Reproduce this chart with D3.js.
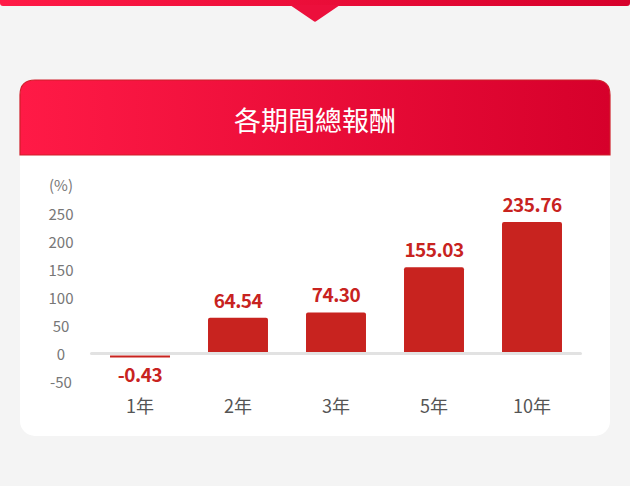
<!DOCTYPE html>
<html lang="zh-Hant">
<head>
    <meta charset="UTF-8">
    <title>各期間總報酬</title>
    <script src="https://cdnjs.cloudflare.com/ajax/libs/d3/7.8.5/d3.min.js"></script>
    <style>
        html, body { margin: 0; padding: 0; background: #f4f4f4; }
        svg { display: block; font-family: "Noto Sans CJK TC", "Noto Sans", sans-serif; }
    </style>
</head>
<body>
    <svg id="chart" width="630" height="486"></svg>
    <script>
        // data
        var title = "各期間總報酬";
        var unitLabel = "(%)";
        var periods = ["1年", "2年", "3年", "5年", "10年"];
        var returns = [-0.43, 64.54, 74.30, 155.03, 235.76];
        var tickValues = [-50, 0, 50, 100, 150, 200, 250];

        var W = 630, H = 486;
        var red = "#c8231f";

        var svg = d3.select("#chart");
        var defs = svg.append("defs");

        var grad = defs.append("linearGradient")
            .attr("id", "hdr")
            .attr("x1", "0%").attr("y1", "0%")
            .attr("x2", "100%").attr("y2", "0%");
        grad.append("stop").attr("offset", "0%").attr("stop-color", "#ff1a46");
        grad.append("stop").attr("offset", "100%").attr("stop-color", "#d6002b");

        // top strip + notch
        svg.append("rect")
            .attr("x", 0).attr("y", -4)
            .attr("width", W).attr("height", 10)
            .attr("rx", 3)
            .attr("fill", "url(#hdr)");
        svg.append("path")
            .attr("d", "M290,5 L340,5 L316.5,21 Q315,22.5 313.5,21 Z")
            .attr("fill", "#ec0f3c");

        // card
        var cx = 20, cy = 80, cw = 590, ch = 356;
        svg.append("rect")
            .attr("x", cx).attr("y", cy)
            .attr("width", cw).attr("height", ch)
            .attr("rx", 15)
            .attr("fill", "#fff");

        // header with rounded top corners
        var hh = 75, r = 15;
        svg.append("path")
            .attr("d", "M" + cx + "," + (cy + hh) +
                " L" + cx + "," + (cy + r) +
                " Q" + cx + "," + cy + " " + (cx + r) + "," + cy +
                " L" + (cx + cw - r) + "," + cy +
                " Q" + (cx + cw) + "," + cy + " " + (cx + cw) + "," + (cy + r) +
                " L" + (cx + cw) + "," + (cy + hh) + " Z")
            .attr("fill", "url(#hdr)")
            .attr("stroke", "#cf1f2a")
            .attr("stroke-width", 1.2);

        svg.append("text")
            .attr("x", W / 2).attr("y", 131)
            .attr("text-anchor", "middle")
            .attr("fill", "#fff")
            .attr("font-size", 27)
            .attr("font-weight", 400)
            .text(title);

        // scales
        var x = d3.scaleBand()
            .domain(periods)
            .range([91, 581])
            .paddingInner(0.388)
            .paddingOuter(0.194);

        var y = d3.scaleLinear()
            .domain([-50, 250])
            .range([382, 214]);

        // y axis labels
        var yAxis = d3.axisLeft(y)
            .tickValues(tickValues)
            .tickFormat(function (d) { return String(d); })
            .tickSize(0).tickPadding(0);
        var gy = svg.append("g")
            .attr("transform", "translate(61,0)")
            .call(yAxis);
        gy.select(".domain").remove();
        gy.selectAll("text")
            .attr("text-anchor", "middle")
            .attr("dy", "0.35em")
            .attr("fill", "#777")
            .attr("font-size", 15)
            .attr("font-family", "Noto Sans CJK TC, sans-serif");

        svg.append("text")
            .attr("x", 61).attr("y", 186)
            .attr("text-anchor", "middle")
            .attr("dy", "0.35em")
            .attr("fill", "#777")
            .attr("font-size", 15)
            .text(unitLabel);

        // bars
        var y0 = y(0);
        var bars = periods.map(function (p, i) { return { p: p, v: returns[i] }; });

        svg.selectAll(".bar")
            .data(bars)
            .enter()
            .append("path")
            .attr("class", "bar")
            .attr("fill", red)
            .attr("d", function (d) {
                var x0 = x(d.p), bw = x.bandwidth();
                if (d.v >= 0) {
                    var top = y(d.v), bot = y0, rr = 2;
                    return "M" + x0 + "," + bot +
                        " L" + x0 + "," + (top + rr) +
                        " Q" + x0 + "," + top + " " + (x0 + rr) + "," + top +
                        " L" + (x0 + bw - rr) + "," + top +
                        " Q" + (x0 + bw) + "," + top + " " + (x0 + bw) + "," + (top + rr) +
                        " L" + (x0 + bw) + "," + bot + " Z";
                }
                var t = y0 + 1.5, b = Math.max(y(d.v), t + 2);
                return "M" + x0 + "," + t + " L" + (x0 + bw) + "," + t +
                    " L" + (x0 + bw) + "," + b + " L" + x0 + "," + b + " Z";
            });

        // zero line
        svg.append("line")
            .attr("x1", 91.5).attr("x2", 580.5)
            .attr("y1", y0 - 0.5).attr("y2", y0 - 0.5)
            .attr("stroke", "#e2e2e2")
            .attr("stroke-width", 3)
            .attr("stroke-linecap", "round");

        // value labels
        svg.selectAll(".val")
            .data(bars)
            .enter()
            .append("text")
            .attr("class", "val")
            .attr("x", function (d) { return x(d.p) + x.bandwidth() / 2; })
            .attr("y", function (d) { return d.v >= 0 ? y(d.v) - 10 : 382; })
            .attr("text-anchor", "middle")
            .attr("fill", red)
            .attr("font-size", 19)
            .attr("font-weight", 700)
            .attr("letter-spacing", -0.5)
            .text(function (d) { return d.v.toFixed(2); });

        // category labels
        svg.selectAll(".cat")
            .data(periods)
            .enter()
            .append("text")
            .attr("class", "cat")
            .attr("x", function (d) { return x(d) + x.bandwidth() / 2; })
            .attr("y", 413)
            .attr("text-anchor", "middle")
            .attr("fill", "#555")
            .attr("font-size", 18)
            .text(function (d) { return d; });
    </script>
</body>
</html>
